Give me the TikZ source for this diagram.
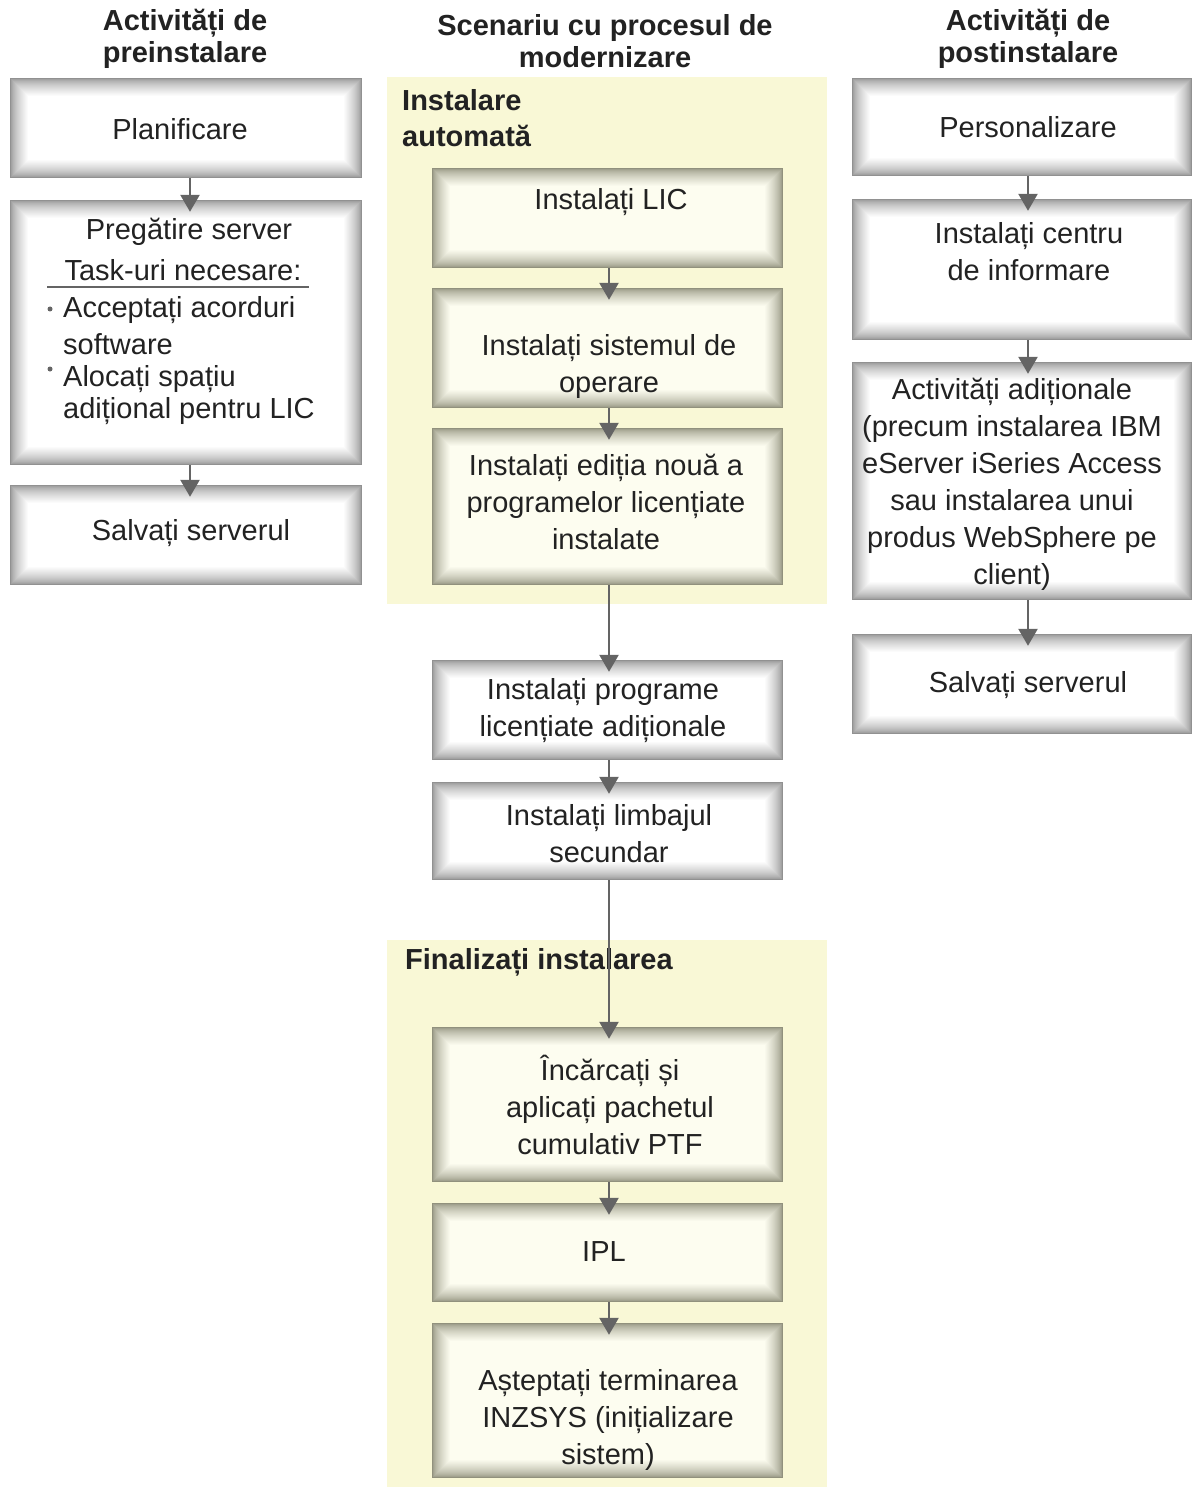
\documentclass[tikz,border=0pt]{standalone}
\usepackage{fontspec}
\setmainfont{Liberation Sans}
\usetikzlibrary{arrows.meta}
\definecolor{ylw}{RGB}{249,248,214}
\definecolor{txt}{RGB}{34,34,34}
\definecolor{arrc}{RGB}{100,100,100}
\definecolor{gedge}{RGB}{145,145,145}
\definecolor{yedge}{RGB}{145,145,125}
\definecolor{cream}{RGB}{253,253,240}
\newcommand\glowfill[2]{%
 \foreach \i in {1,...,18}{%
   \pgfmathsetmacro\p{100*(\i/18)^0.65}%
   \fill[#1!\p!#2] ([xshift=\i pt,yshift=-\i pt]path picture bounding box.north west) rectangle ([xshift=-\i pt,yshift=\i pt]path picture bounding box.south east);
 }}
\tikzset{
  wbox/.style={rectangle, inner sep=0pt, fill=gedge, path picture={\glowfill{white}{gedge}}},
  ybox/.style={rectangle, inner sep=0pt, fill=yedge, path picture={\glowfill{cream}{yedge}}},
  lcol/.style={minimum width=352pt},
  mcol/.style={minimum width=351pt},
  rcol/.style={minimum width=340pt},
  txtn/.style={text=txt, font=\fontsize{29}{37}\selectfont, align=center, inner sep=0pt},
  hdr/.style={text=txt, font=\fontsize{29}{32}\selectfont\bfseries, align=center, inner sep=0pt},
  arr/.style={draw=arrc, line width=2.5pt, -{Triangle[width=19pt,length=17pt]}, shorten >=-12pt},
}
\begin{document}
\begin{tikzpicture}[x=1pt,y=-1pt]
\useasboundingbox (0,0) rectangle (1193,1487);
% yellow regions
\fill[ylw] (387,77) rectangle (827,604);
\fill[ylw] (387,940) rectangle (827,1487);
% headers
\node[hdr] (hpre) at (185,39) {Activități de\\preinstalare};
\node[hdr] (hmod) at (605,41) {Scenariu cu procesul de\\modernizare};
\node[hdr] (hpost) at (1028,39) {Activități de\\postinstalare};
\node[hdr, align=left, anchor=west, font=\fontsize{29}{36}\selectfont\bfseries] (lauto) at (402,118) {Instalare\\automată};
\node[hdr, anchor=west] (lfin) at (405,962) {Finalizați instalarea};
% left column
\node[wbox, lcol, minimum height=100pt] (plan) at (186,128) {};
\node[wbox, lcol, minimum height=265pt] (preg) at (186,332.5) {};
\node[wbox, lcol, minimum height=100pt] (salv1) at (186,535) {};
% middle column
\node[ybox, mcol, minimum height=100pt] (lic) at (607.5,218) {};
\node[ybox, mcol, minimum height=120pt] (sist) at (607.5,348) {};
\node[ybox, mcol, minimum height=157pt] (edit) at (607.5,506.5) {};
\node[wbox, mcol, minimum height=100pt] (prog) at (607.5,710) {};
\node[wbox, mcol, minimum height=98pt] (limb) at (607.5,831) {};
\node[ybox, mcol, minimum height=155pt] (inc) at (607.5,1104.5) {};
\node[ybox, mcol, minimum height=99pt] (ipl) at (607.5,1252.5) {};
\node[ybox, mcol, minimum height=155pt] (ast) at (607.5,1400.5) {};
% right column
\node[wbox, rcol, minimum height=98pt] (pers) at (1022,127) {};
\node[wbox, rcol, minimum height=141pt] (cent) at (1022,269.5) {};
\node[wbox, rcol, minimum height=238pt] (act) at (1022,481) {};
\node[wbox, rcol, minimum height=100pt] (salv2) at (1022,684) {};
% texts
\node[txtn] (tplan) at (180,129) {Planificare};
\node[txtn] (tpreg) at (189,232) {Pregătire server};
\node[txtn] (ttask) at (183,270) {Task-uri necesare:};
\draw[arrc, line width=1.5pt] (47,287) -- (309,287);
\fill[arrc] (50,309) circle (2.5);
\fill[arrc] (50,369) circle (2.5);
\node[txtn, align=left, anchor=north west] (ti1) at (63,296) {Acceptați acorduri\\software};
\node[txtn, align=left, anchor=north west, font=\fontsize{29}{32}\selectfont] (ti2) at (63,365) {Alocați spațiu\\adițional pentru LIC};
\node[txtn] (tsalv1) at (191,533) {Salvați serverul};
\node[txtn] (tlic) at (611,202) {Instalați LIC};
\node[txtn] (tsist) at (609,367) {Instalați sistemul de\\operare};
\node[txtn] (tedit) at (606,502) {Instalați ediția nouă a\\programelor licențiate\\instalate};
\node[txtn] (tprog) at (603,711) {Instalați programe\\licențiate adiționale};
\node[txtn] (tlimb) at (609,834) {Instalați limbajul\\secundar};
\node[txtn] (tinc) at (610,1105) {Încărcați și\\aplicați pachetul\\cumulativ PTF};
\node[txtn] (tipl) at (604,1252) {IPL};
\node[txtn] (tast) at (608,1420) {Așteptați terminarea\\INZSYS (inițializare\\sistem)};
\node[txtn] (tpers) at (1028,127) {Personalizare};
\node[txtn] (tcent) at (1029,252) {Instalați centru\\de informare};
\node[txtn] (tact) at (1012,484) {Activități adiționale\\(precum instalarea IBM\\eServer iSeries Access\\sau instalarea unui\\produs WebSphere pe\\client)};
\node[txtn] (tsalv2) at (1028,685) {Salvați serverul};
% arrows
\draw[arr] ([xshift=4pt]plan.south) -- ([xshift=4pt]preg.north);
\draw[arr] ([xshift=4pt]preg.south) -- ([xshift=4pt]salv1.north);
\draw[arr] ([xshift=1.5pt]lic.south) -- ([xshift=1.5pt]sist.north);
\draw[arr] ([xshift=1.5pt]sist.south) -- ([xshift=1.5pt]edit.north);
\draw[arr] ([xshift=1.5pt]edit.south) -- ([xshift=1.5pt]prog.north);
\draw[arr] ([xshift=1.5pt]prog.south) -- ([xshift=1.5pt]limb.north);
\draw[arr] ([xshift=1.5pt]limb.south) -- ([xshift=1.5pt]inc.north);
\draw[arr] ([xshift=1.5pt]inc.south) -- ([xshift=1.5pt]ipl.north);
\draw[arr] ([xshift=1.5pt]ipl.south) -- ([xshift=1.5pt]ast.north);
\draw[arr] ([xshift=6pt]pers.south) -- ([xshift=6pt]cent.north);
\draw[arr] ([xshift=6pt]cent.south) -- ([xshift=6pt]act.north);
\draw[arr] ([xshift=6pt]act.south) -- ([xshift=6pt]salv2.north);
\end{tikzpicture}
\end{document}
